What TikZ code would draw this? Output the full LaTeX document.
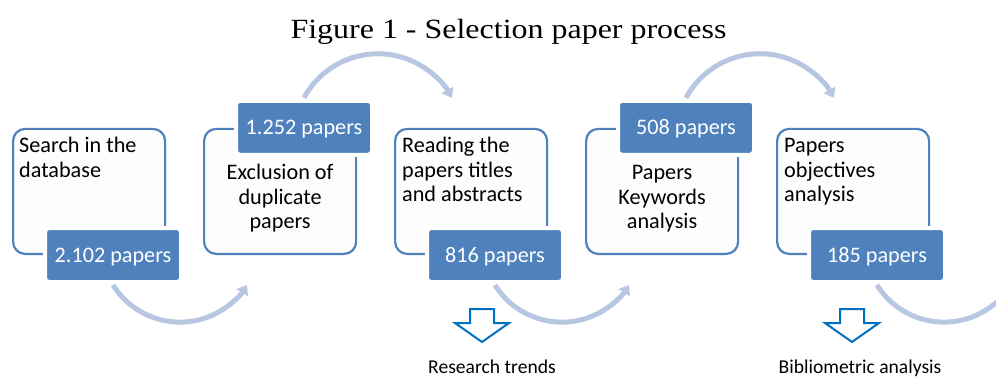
\documentclass[tikz,border=0pt]{standalone}
\usepackage{fontspec}
\setmainfont{Carlito}
\newfontfamily\titlefont{Liberation Serif}[FakeStretch=1.15]
\usetikzlibrary{arrows.meta}

\definecolor{accent}{HTML}{4F81BD}
\definecolor{flow}{HTML}{B7C7E2}
\definecolor{outcome}{HTML}{0070C0}
\definecolor{paper}{HTML}{FDFDFD}

\begin{document}
\begin{tikzpicture}[x=1pt,y=1pt,
  stagebox/.style={draw=accent, line width=2.2pt, fill=paper, rounded corners=12pt,
    minimum width=152pt, minimum height=125pt, anchor=south west, inner sep=0pt},
  stagetext/.style={inner sep=0pt, font=\fontsize{22.2}{24.5}\selectfont, text=black},
  countbox/.style={fill=accent, draw=white, line width=4pt, rounded corners=4pt,
    minimum width=136pt, minimum height=54pt, inner sep=0pt, text=white,
    text height=14.3pt, text depth=0pt, font=\fontsize{22.2}{24.5}\selectfont},
  flowarc/.style={draw=flow, line width=5pt, -{Triangle[width=13pt,length=9pt]}},
  outarrow/.pic={\draw[outcome, line width=2pt, fill=white, line join=miter]
    (-12,33) -- (12,33) -- (12,19) -- (27,19) -- (0,0) -- (-27,19) -- (-12,19) -- cycle;},
  result/.style={inner sep=0pt, anchor=base, font=\fontsize{19.6}{22}\selectfont}
]
\clip (0,0) rectangle (996,378);

% title
\node[anchor=base, inner sep=0pt, font=\titlefont\fontsize{27.8}{30}\selectfont] (title)
  at (508.5,339.5) {Figure 1 - Selection paper process};

% stage frames
\node[stagebox] (s1) at (12,123) {};
\node[stagebox] (s2) at (203,123) {};
\node[stagebox] (s3) at (394,123) {};
\node[stagebox] (s4) at (585,123) {};
\node[stagebox] (s5) at (776,123) {};

% stage descriptions
\node[stagetext, anchor=north west, align=left] (t1) at ([xshift=7pt,yshift=-7.6pt]s1.north west)
  {\strut Search in the\\database};
\node[stagetext, anchor=north, align=center] (t2) at ([yshift=-34.8pt]s2.north)
  {\strut Exclusion of\\duplicate\\papers};
\node[stagetext, anchor=north west, align=left] (t3) at ([xshift=8pt,yshift=-7.6pt]s3.north west)
  {\strut Reading the\\papers titles\\and abstracts};
\node[stagetext, anchor=north, align=center] (t4) at ([yshift=-34.8pt]s4.north)
  {\strut Papers\\Keywords\\analysis};
\node[stagetext, anchor=north west, align=left] (t5) at ([xshift=8pt,yshift=-7.6pt]s5.north west)
  {\strut Papers\\objectives\\analysis};

% paper counts
\node[countbox] (c1) at ([xshift=101pt]s1.south west) {2.102 papers};
\node[countbox] (c2) at ([xshift=101pt]s2.north west) {1.252 papers};
\node[countbox] (c3) at ([xshift=101pt]s3.south west) {816 papers};
\node[countbox] (c4) at ([xshift=101pt]s4.north west) {508 papers};
\node[countbox] (c5) at ([xshift=101pt]s5.south west) {185 papers};

% curved flow between stages
\draw[flowarc] ([yshift=-1pt]c1.south) arc[start angle=212, end angle=328, radius=79];
\draw[flowarc] ([yshift=1pt]c2.north) arc[start angle=151.6, end angle=28.4, radius=84];
\draw[flowarc] ([yshift=-1pt]c3.south) arc[start angle=212, end angle=328, radius=79];
\draw[flowarc] ([yshift=1pt]c4.north) arc[start angle=151.6, end angle=28.4, radius=84];
\draw[flowarc] ([yshift=-1pt]c5.south) arc[start angle=212, end angle=328, radius=79];

% outcomes
\pic at (482,36) {outarrow};
\pic at (852,36) {outarrow};
\node[result] (r1) at (492,4.5) {Research trends};
\node[result] (r2) at (860,4.5) {Bibliometric analysis};
\end{tikzpicture}
\end{document}
